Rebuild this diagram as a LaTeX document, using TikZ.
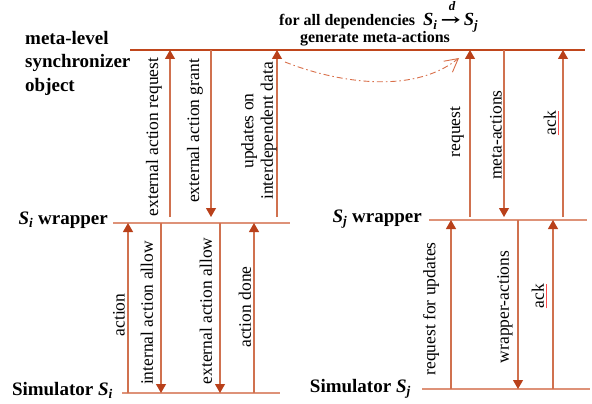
\documentclass[tikz,border=0pt]{standalone}
\usepackage{graphicx}
\usepackage{fontspec}
\setmainfont{Liberation Serif}
\newfontfamily\arrowfont{DejaVu Serif}
\usetikzlibrary{arrows.meta}
\definecolor{topcol}{HTML}{C0461C}
\definecolor{linecol}{HTML}{DE9278}
\definecolor{arrcol}{HTML}{D0714F}
\definecolor{headcol}{HTML}{B9401A}
\definecolor{dashcol}{HTML}{D9704A}
\newcommand{\Sv}[1]{\textbf{\textit{S}}\textsubscript{\textbf{\textit{#1}}}}
\newcommand{\depArrow}{\rlap{\raisebox{0.85em}{\kern0.45em\fontsize{13}{13}\selectfont\textbf{\textit{d}}}}\scalebox{1.5}[1]{\arrowfont\fontsize{16}{16}\selectfont →}}
\begin{document}
\begin{tikzpicture}[x=1pt,y=-1pt,
  hline/.style={line width=1.3pt},
  msg/.style={arrcol, line width=1.1pt, -{Triangle[length=9pt,width=10pt,color=headcol]}},
  lbl/.style={rotate=90, font=\fontsize{17.5}{19.5}\selectfont, inner sep=0pt, align=center},
  bigtitle/.style={font=\fontsize{19}{23}\selectfont\bfseries, inner sep=0pt},
  toptitle/.style={font=\fontsize{16}{19}\selectfont\bfseries, inner sep=0pt},
  spell/.style={red!70, line width=0.5pt}
]
\fill[white] (0,0) rectangle (592,404);
\useasboundingbox (0,0) rectangle (592,404);

% level lines
\coordinate (mT1) at (130,50);  \coordinate (mT2) at (585,50);
\coordinate (wi1) at (113,223); \coordinate (wi2) at (290,223);
\coordinate (wj1) at (429,220); \coordinate (wj2) at (587,220);
\coordinate (si1) at (122,393); \coordinate (si2) at (280,393);
\coordinate (sj1) at (422,389); \coordinate (sj2) at (590,389);
\draw[hline, topcol] (mT1) -- (mT2);
\draw[hline, linecol] (wi1) -- (wi2);
\draw[hline, linecol] (wj1) -- (wj2);
\draw[hline, linecol] (si1) -- (si2);
\draw[hline, linecol] (sj1) -- (sj2);

% side labels
\node[bigtitle, anchor=base west] (ml1) at (25,45) {meta-level};
\node[bigtitle, anchor=base west] (ml2) at (25,68) {synchronizer};
\node[bigtitle, anchor=base west] (ml3) at (25,92) {object};
\node[bigtitle, anchor=base east] (wiL) at (108,224) {\Sv{i} wrapper};
\node[bigtitle, anchor=base east] (siL) at (113,395) {Simulator \Sv{i}};
\node[bigtitle, anchor=base east] (wjL) at (422,222) {\Sv{j} wrapper};
\node[bigtitle, anchor=base east] (sjL) at (411,392) {Simulator \Sv{j}};

% top title
\node[toptitle, anchor=base west] (t1) at (279,26) {for all dependencies\ \ {\fontsize{18.5}{19}\selectfont\Sv{i}\,\depArrow\,\Sv{j}}};
\node[toptitle, anchor=base] (t2) at (375,43) {generate meta-actions};

% endpoints of messages
\coordinate (earB) at (170,217); \coordinate (earT) at (170,50);
\coordinate (eagT) at (211,50);  \coordinate (eagB) at (211,217);
\coordinate (updB) at (277,217); \coordinate (updT) at (277,50);
\coordinate (actB) at (128,393); \coordinate (actT) at (128,223);
\coordinate (iaaT) at (161,223); \coordinate (iaaB) at (161,393);
\coordinate (eaaT) at (220,223); \coordinate (eaaB) at (220,393);
\coordinate (adnB) at (254,393); \coordinate (adnT) at (254,223);
\coordinate (reqB) at (470,217); \coordinate (reqT) at (470,50);
\coordinate (metT) at (504,50);  \coordinate (metB) at (504,217);
\coordinate (ak1B) at (563,217); \coordinate (ak1T) at (563,50);
\coordinate (rfuB) at (451,389); \coordinate (rfuT) at (451,220);
\coordinate (wraT) at (518,220); \coordinate (wraB) at (518,389);
\coordinate (ak2B) at (553,389); \coordinate (ak2T) at (553,220);

\draw[msg] (earB) -- (earT);
\draw[msg] (eagT) -- (eagB);
\draw[msg] (updB) -- (updT);
\draw[msg] (actB) -- (actT);
\draw[msg] (iaaT) -- (iaaB);
\draw[msg] (eaaT) -- (eaaB);
\draw[msg] (adnB) -- (adnT);
\draw[msg] (reqB) -- (reqT);
\draw[msg] (metT) -- (metB);
\draw[msg] (ak1B) -- (ak1T);
\draw[msg] (rfuB) -- (rfuT);
\draw[msg] (wraT) -- (wraB);
\draw[msg] (ak2B) -- (ak2T);

% message labels
\node[lbl] (earL) at (154,137) {external action request};
\node[lbl] (eagL) at (195,131) {external action grant};
\node[lbl] (updL) at (259,131) {updates on\\interdependent data};
\node[lbl] (actL) at (119,315) {action};
\node[lbl] (iaaL) at (147,313) {internal action allow};
\node[lbl] (eaaL) at (206,311) {external action allow};
\node[lbl] (adnL) at (245,307) {action done};
\node[lbl] (reqL) at (457,132) {request};
\node[lbl] (metL) at (496,135) {meta-actions};
\node[lbl] (ak1L) at (550,123) {ack};
\node[lbl] (rfuL) at (431,309) {request for updates};
\node[lbl] (wraL) at (505,307) {wrapper-actions};
\node[lbl] (ak2L) at (538,296) {ack};
\draw[spell] (ak1L.south west) ++(1.5,0) -- ([xshift=1.5pt]ak1L.south east);
\draw[spell] (ak2L.south west) ++(1.5,0) -- ([xshift=1.5pt]ak2L.south east);

% dependency curve
\coordinate (dS) at (285,62);
\coordinate (dE) at (459,58);
\draw[dashcol, line width=0.9pt, dash pattern=on 6pt off 3pt on 1.5pt off 3pt,
      -{Straight Barb[length=13pt,width=14pt,line width=0.9pt]}]
  (dS) .. controls (330,80) and (410,97) .. (dE);
\end{tikzpicture}
\end{document}
